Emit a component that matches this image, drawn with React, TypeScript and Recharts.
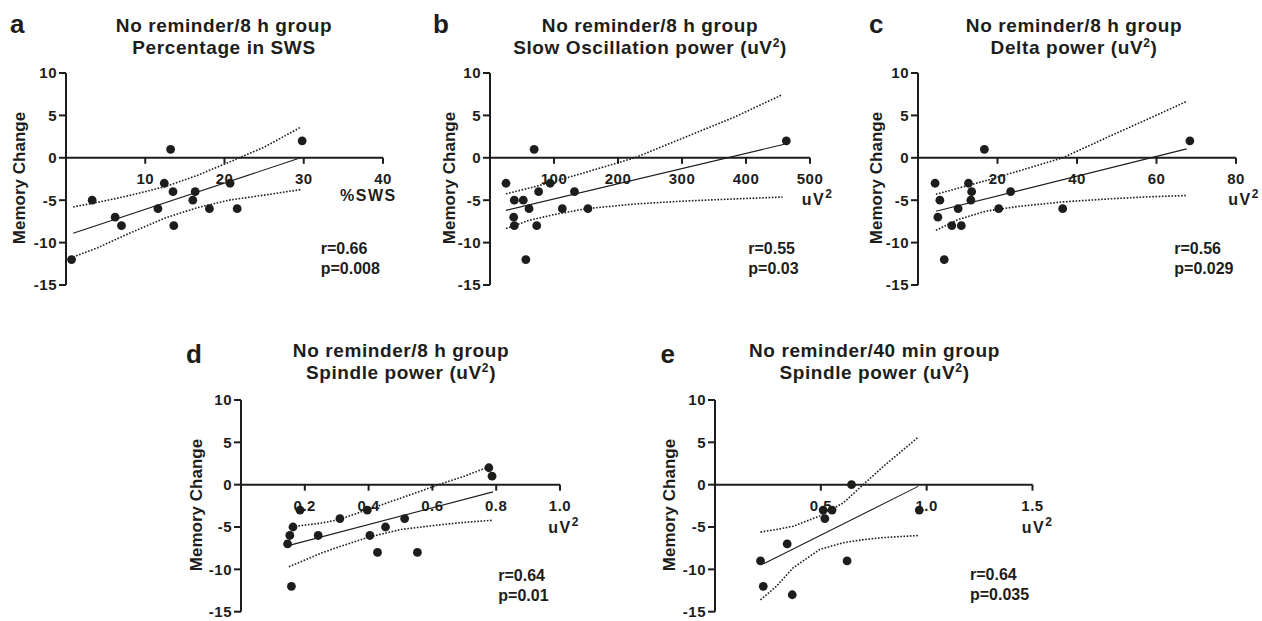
import React from 'react';
import { ScatterChart, Scatter, XAxis, YAxis } from 'recharts';

type Pt = { x: number; y: number };

const ink = '#1d1d1b';
const font = '"Liberation Sans", Arial, Helvetica, sans-serif';

const yTicks = [-15, -10, -5, 0, 5, 10];

// a: percentage in SWS
const swsX = [0.7, 3.3, 6.2, 7.0, 11.6, 12.4, 13.2, 13.5, 13.6, 16.0, 16.3, 18.1, 20.7, 21.6, 29.8];
const swsY = [-12, -5, -7, -8, -6, -3, 1, -4, -8, -5, -4, -6, -3, -6, 2];
const swsFitX = [0.9, 29.6];
const swsFitY = [-8.9, 0];
const swsBandX = [0.9, 4, 8, 12.5, 16.5, 20.5, 25, 29.6];
const swsUpper = [-5.8, -5.25, -4.45, -3.4, -2.1, -0.55, 1.25, 3.6];
const swsLower = [-11.7, -10.6, -8.9, -7.1, -5.9, -5.0, -4.4, -3.75];

// b: slow oscillation power
const soX = [25, 38, 37, 38, 52, 56, 61, 69, 73, 76, 94, 113, 132, 153, 463];
const soY = [-3, -5, -7, -8, -5, -12, -6, 1, -8, -4, -3, -6, -4, -6, 2];
const soFitX = [24.7, 460];
const soFitY = [-6.2, 1.6];
const soBandX = [25, 60, 100, 150, 226, 304, 382, 457];
const soUpper = [-4.25, -3.6, -2.8, -1.7, 0, 2.4, 4.8, 7.45];
const soLower = [-8.35, -7.4, -6.7, -6.0, -5.45, -5.1, -4.85, -4.63];

// c: delta power
const deltaX = [4.3, 5.5, 5.0, 6.6, 8.5, 10.9, 10.1, 12.7, 13.5, 13.3, 16.7, 20.3, 23.3, 36.4, 68.4];
const deltaY = [-3, -5, -7, -12, -8, -8, -6, -3, -4, -5, 1, -6, -4, -6, 2];
const deltaFitX = [4.5, 67.6];
const deltaFitY = [-6.3, 1.05];
const deltaBandX = [4.5, 10, 17, 25, 36.4, 48, 58, 67.6];
const deltaUpper = [-4.3, -3.6, -2.7, -1.6, 0, 2.5, 4.6, 6.65];
const deltaLower = [-8.55, -7.3, -6.3, -5.75, -5.2, -4.85, -4.6, -4.45];

// d: spindle power, 8 h group
const sp8X = [0.146, 0.153, 0.163, 0.158, 0.185, 0.242, 0.31, 0.396, 0.404, 0.428, 0.453, 0.513, 0.553, 0.777, 0.787];
const sp8Y = [-7, -6, -5, -12, -3, -6, -4, -3, -6, -8, -5, -4, -8, 2, 1];
const sp8FitX = [0.148, 0.79];
const sp8FitY = [-7.2, -0.85];
const sp8BandX = [0.15, 0.25, 0.31, 0.4, 0.5, 0.62, 0.7, 0.79];
const sp8Upper = [-5.0, -4.55, -4.1, -2.9, -1.6, 0, 1.0, 2.3];
const sp8Lower = [-9.7, -8.1, -7.3, -6.2, -5.3, -4.75, -4.45, -4.2];

// e: spindle power, 40 min group
const sp40X = [0.215, 0.228, 0.341, 0.365, 0.511, 0.519, 0.553, 0.624, 0.645, 0.965];
const sp40Y = [-9, -12, -7, -13, -3, -4, -3, -9, 0, -3];
const sp40FitX = [0.23, 0.96];
const sp40FitY = [-9.35, -0.2];
const sp40BandX = [0.215, 0.29, 0.37, 0.495, 0.606, 0.7, 0.795, 0.96];
const sp40Upper = [-5.6, -5.3, -4.9, -3.7, -2.15, 0, 2.15, 5.6];
const sp40Lower = [-13.6, -12.0, -9.8, -7.65, -6.85, -6.5, -6.25, -6.0];

const zip = (xs: number[], ys: number[]): Pt[] => xs.map((x, i) => ({ x, y: ys[i] }));

const PAD = 14;
const YW = 44;
const XH = 40;

const noDot = () => <g />;
const dot = (p: any) => <circle cx={p.cx} cy={p.cy} r={4.4} fill={ink} />;

const YTick = (p: any) => (
  <text x={p.x} y={p.y} dy={5.3} textAnchor="end" fontFamily={font} fontSize={15} fontWeight={700} letterSpacing={0.5} fill={ink}>
    {p.payload.value}
  </text>
);

const makeXTick = (decimals: number) => (p: any) => (
  <text x={p.x} y={p.y} dy={10.5} textAnchor="middle" fontFamily={font} fontSize={15} fontWeight={700} letterSpacing={0.5} fill={ink}>
    {Number(p.payload.value).toFixed(decimals)}
  </text>
);

type PanelProps = {
  left: number;
  y10: number;
  plotW: number;
  plotH: number;
  xMax: number;
  xTicks: number[];
  decimals: number;
  points: Pt[];
  fit: Pt[];
  upper: Pt[];
  lower: Pt[];
};

function Panel({ left, y10, plotW, plotH, xMax, xTicks, decimals, points, fit, upper, lower }: PanelProps) {
  const w = YW + plotW + PAD;
  return (
    <>
      <div style={{ position: 'absolute', left: left - YW, top: y10 - PAD }}>
        <ScatterChart width={w} height={plotH + 2 * PAD} margin={{ top: PAD, right: PAD, bottom: PAD, left: 0 }}>
          <XAxis type="number" dataKey="x" domain={[0, xMax]} hide />
          <YAxis
            type="number"
            dataKey="y"
            domain={[-15, 10]}
            ticks={yTicks}
            interval={0}
            width={YW}
            tickSize={7}
            axisLine={{ stroke: ink, strokeWidth: 2 }}
            tickLine={{ stroke: ink, strokeWidth: 2 }}
            tick={YTick}
          />
          <Scatter data={upper} shape={noDot} line={{ stroke: ink, strokeWidth: 1.6, strokeDasharray: '1.6 1.6' }} isAnimationActive={false} />
          <Scatter data={lower} shape={noDot} line={{ stroke: ink, strokeWidth: 1.6, strokeDasharray: '1.6 1.6' }} isAnimationActive={false} />
          <Scatter data={fit} shape={noDot} line={{ stroke: ink, strokeWidth: 1.1 }} isAnimationActive={false} />
          <Scatter data={points} shape={dot} isAnimationActive={false} />
        </ScatterChart>
      </div>
      {/* x axis crossing at y = 0: a second chart whose bottom axis sits on the zero line */}
      <div style={{ position: 'absolute', left: left - YW, top: y10 - PAD }}>
        <ScatterChart width={w} height={PAD + (plotH * 10) / 25 + XH} margin={{ top: PAD, right: PAD, bottom: 0, left: YW }}>
          <XAxis
            type="number"
            dataKey="x"
            domain={[0, xMax]}
            ticks={xTicks}
            interval={0}
            height={XH}
            tickSize={6}
            tickMargin={10}
            axisLine={{ stroke: ink, strokeWidth: 2 }}
            tickLine={{ stroke: ink, strokeWidth: 2 }}
            tick={makeXTick(decimals)}
          />
          <YAxis type="number" dataKey="y" domain={[0, 10]} allowDataOverflow hide />
          <Scatter data={points} shape={noDot} isAnimationActive={false} />
        </ScatterChart>
      </div>
    </>
  );
}

const sup = (
  <>
    <tspan dy={-7} fontSize={12}>2</tspan>
    <tspan dy={7}>)</tspan>
  </>
);

function Title({ x, y, l1, l2, unit }: { x: number; y: number; l1: string; l2: string; unit: boolean }) {
  return (
    <text x={x} y={y} textAnchor="middle" fontSize={19} fontWeight={700} letterSpacing={0.6} fill={ink}>
      <tspan x={x}>{l1}</tspan>
      <tspan x={x} dy={22}>
        {l2}
        {unit ? ' (uV' : ''}
      </tspan>
      {unit ? sup : null}
    </text>
  );
}

function Stats({ x, y, r, p }: { x: number; y: number; r: string; p: string }) {
  return (
    <text x={x} y={y} fontSize={16} fontWeight={700} fill={ink}>
      <tspan x={x}>{r}</tspan>
      <tspan x={x} dy={20}>{p}</tspan>
    </text>
  );
}

function UnitLabel({ x, y }: { x: number; y: number }) {
  return (
    <text x={x} y={y} fontSize={16} fontWeight={700} letterSpacing={1.5} fill={ink}>
      uV<tspan dy={-7} fontSize={12} letterSpacing={0}>2</tspan>
    </text>
  );
}

function YLabel({ x, y }: { x: number; y: number }) {
  return (
    <text x={x} y={y} transform={`rotate(-90 ${x} ${y})`} textAnchor="middle" fontSize={17} fontWeight={700} fill={ink}>
      Memory Change
    </text>
  );
}

export default function App() {
  return (
    <div style={{ position: 'absolute', left: 0, top: 0, width: 1262, height: 621, background: '#fff', fontFamily: font }}>
      <Panel left={65.5} y10={72.5} plotW={317} plotH={212} xMax={40} xTicks={[10, 20, 30, 40]} decimals={0}
        points={zip(swsX, swsY)} fit={zip(swsFitX, swsFitY)} upper={zip(swsBandX, swsUpper)} lower={zip(swsBandX, swsLower)} />
      <Panel left={490} y10={72.5} plotW={320} plotH={212} xMax={500} xTicks={[100, 200, 300, 400, 500]} decimals={0}
        points={zip(soX, soY)} fit={zip(soFitX, soFitY)} upper={zip(soBandX, soUpper)} lower={zip(soBandX, soLower)} />
      <Panel left={918} y10={72.5} plotW={318} plotH={212} xMax={80} xTicks={[20, 40, 60, 80]} decimals={0}
        points={zip(deltaX, deltaY)} fit={zip(deltaFitX, deltaFitY)} upper={zip(deltaBandX, deltaUpper)} lower={zip(deltaBandX, deltaLower)} />
      <Panel left={241.2} y10={400} plotW={319} plotH={211.7} xMax={1} xTicks={[0.2, 0.4, 0.6, 0.8, 1.0]} decimals={1}
        points={zip(sp8X, sp8Y)} fit={zip(sp8FitX, sp8FitY)} upper={zip(sp8BandX, sp8Upper)} lower={zip(sp8BandX, sp8Lower)} />
      <Panel left={715.2} y10={400} plotW={317.5} plotH={211.7} xMax={1.5} xTicks={[0.5, 1.0, 1.5]} decimals={1}
        points={zip(sp40X, sp40Y)} fit={zip(sp40FitX, sp40FitY)} upper={zip(sp40BandX, sp40Upper)} lower={zip(sp40BandX, sp40Lower)} />

      <svg width={1262} height={621} style={{ position: 'absolute', left: 0, top: 0, pointerEvents: 'none' }} fontFamily={font}>
        <g fontSize={26} fontWeight={700} fill={ink}>
          <text x={10} y={33.3}>a</text>
          <text x={433} y={33.3}>b</text>
          <text x={869} y={33.3}>c</text>
          <text x={186} y={362.7}>d</text>
          <text x={660.5} y={362.7}>e</text>
        </g>
        <Title x={224} y={31.7} l1="No reminder/8 h group" l2="Percentage in SWS" unit={false} />
        <Title x={650} y={31.7} l1="No reminder/8 h group" l2="Slow Oscillation power" unit />
        <Title x={1074} y={31.7} l1="No reminder/8 h group" l2="Delta power" unit />
        <Title x={401} y={357} l1="No reminder/8 h group" l2="Spindle power" unit />
        <Title x={874.5} y={357} l1="No reminder/40 min group" l2="Spindle power" unit />

        <YLabel x={25} y={178} />
        <YLabel x={455} y={178} />
        <YLabel x={882} y={178} />
        <YLabel x={202} y={505} />
        <YLabel x={675} y={505} />

        <text x={340} y={200.7} fontSize={16} fontWeight={700} letterSpacing={1.5} fill={ink}>%SWS</text>
        <UnitLabel x={801.7} y={205} />
        <UnitLabel x={1228.3} y={205} />
        <UnitLabel x={548.3} y={533} />
        <UnitLabel x={1021.7} y={533} />

        <Stats x={320.7} y={254} r="r=0.66" p="p=0.008" />
        <Stats x={748.3} y={254} r="r=0.55" p="p=0.03" />
        <Stats x={1174.3} y={254} r="r=0.56" p="p=0.029" />
        <Stats x={498.3} y={580.7} r="r=0.64" p="p=0.01" />
        <Stats x={970} y={579.5} r="r=0.64" p="p=0.035" />
      </svg>
    </div>
  );
}
